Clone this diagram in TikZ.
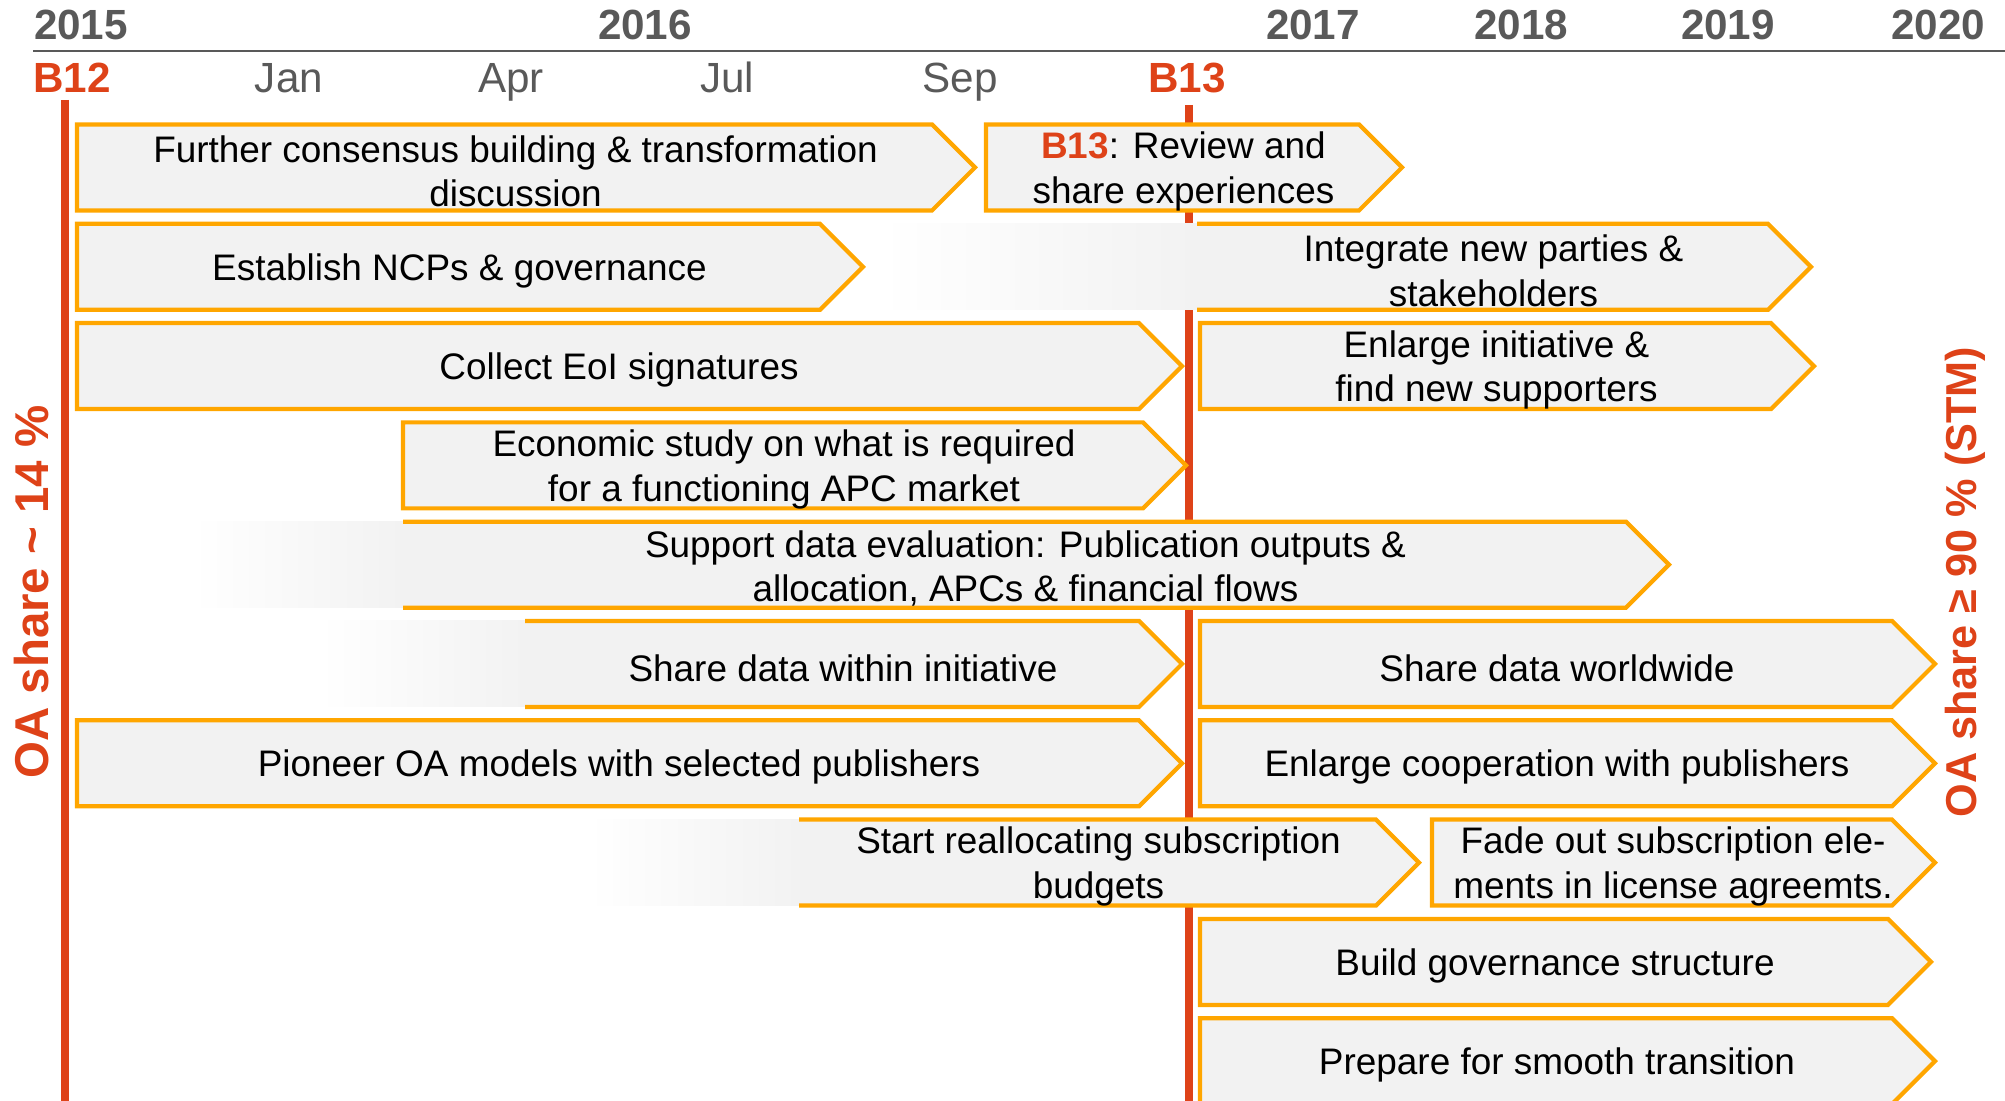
\documentclass[tikz,border=0pt]{standalone}
\usepackage{fontspec}
\setmainfont{Liberation Sans}
\definecolor{oared}{RGB}{222,66,24}
\definecolor{phaseorange}{RGB}{255,166,0}
\definecolor{phasegray}{RGB}{242,242,242}
\definecolor{labelgray}{RGB}{89,89,89}
\tikzset{
	phaseline/.style={draw=phaseorange, fill=phasegray, line width=1.2pt, line join=miter},
	phasetext/.style={align=center, inner sep=0pt, yshift=-1.1pt, font=\fontsize{10.5pt}{12.7pt}\selectfont},
	yearlabel/.style={anchor=base, inner sep=0pt, text=labelgray, font=\fontsize{12pt}{14pt}\selectfont\bfseries},
	monthlabel/.style={anchor=base, inner sep=0pt, text=labelgray, font=\fontsize{12pt}{14pt}\selectfont},
	meetlabel/.style={anchor=base, inner sep=0pt, text=oared, font=\fontsize{12pt}{14pt}\selectfont\bfseries},
	sharelabel/.style={anchor=base, inner sep=0pt, rotate=90, text=oared},
	milestone/.style={draw=oared, line width=2pt},
	pics/phase/.style={code={
		\filldraw[phaseline] (0,-43) -- (#1,-43) -- (#1+43,0) -- (#1,43) -- (0,43) -- cycle;
	}},
	pics/fadephase/.style={code={
		\fill[phasegray] (0,-43) -- (#1,-43) -- (#1+43,0) -- (#1,43) -- (0,43) -- cycle;
		\draw[phaseline, fill=none] (0,-43) -- (#1,-43) -- (#1+43,0) -- (#1,43) -- (0,43);
	}}
}
\begin{document}
\begin{tikzpicture}[x=0.01cm, y=-0.01cm]
	\useasboundingbox (0,0) rectangle (2005,1101);
	\clip (0,0) rectangle (2005,1101);
	\draw[milestone] (65,100) -- (65,1101);
	\draw[milestone] (1189,105) -- (1189,1101);
	\draw[labelgray, line width=0.7pt] (33,51) -- (2005,51);
	\foreach \yx/\yr in {81/2015, 645/2016, 1313/2017, 1521/2018, 1728/2019, 1938/2020}
		\node[yearlabel] (y\yr) at (\yx,40) {\yr};
	\foreach \mx/\mn in {289/Jan, 511/Apr, 727/Jul, 960/Sep}
		\node[monthlabel] (m\mn) at (\mx,93) {\mn};
	\node[meetlabel] (b12) at (72,93) {B12};
	\node[meetlabel] (b13) at (1187,93) {B13};
	\foreach \xl/\xr/\k/\nm/\txt in {
		77/932/1/consensus/{Further consensus building \& transformation\\discussion},
		986/1359/1/review/{{\color{oared}\bfseries B13}: Review and\\share experiences},
		77/820/2/ncps/{Establish NCPs \& governance},
		77/1139/3/eoi/{Collect EoI signatures},
		1200/1771/3/enlarge/{Enlarge initiative \&\\find new supporters},
		403/1143/4/econ/{Economic study on what is required\\for a functioning APC market},
		1200/1892/6/sharews/{Share data worldwide},
		77/1139/7/pioneer/{Pioneer OA models with selected publishers},
		1200/1892/7/coop/{Enlarge cooperation with publishers},
		1432/1892/8/fadeout/{Fade out subscription ele-\\ments in license agreemts.},
		1200/1888/9/govern/{Build governance structure},
		1200/1892/10/prepare/{Prepare for smooth transition}} {
		\pgfmathsetmacro{\rowy}{167.5+99.3*(\k-1)}
		\pgfmathsetmacro{\barlen}{\xr-\xl}
		\pgfmathsetmacro{\midx}{(\xl+\xr)/2+11}
		\pic at (\xl,\rowy) {phase=\barlen};
		\node[phasetext] (\nm) at (\midx,\rowy) {\txt};
	}
	\foreach \xg/\xl/\xr/\k/\nm/\txt in {
		880/1197/1768/2/integrate/{Integrate new parties \&\\stakeholders},
		192/403/1626/5/support/{Support data evaluation: Publication outputs \&\\allocation, APCs \& financial flows},
		320/525/1139/6/sharein/{Share data within initiative},
		588/799/1376/8/realloc/{Start reallocating subscription\\budgets}} {
		\pgfmathsetmacro{\rowy}{167.5+99.3*(\k-1)}
		\pgfmathsetmacro{\barlen}{\xr-\xl}
		\pgfmathsetmacro{\midx}{(\xl+\xr)/2+11}
		\shade[left color=white, right color=phasegray] (\xg,\rowy-43) rectangle (\xl,\rowy+43);
		\pic at (\xl,\rowy) {fadephase=\barlen};
		\node[phasetext] (\nm) at (\midx,\rowy) {\txt};
	}
	\node[sharelabel, font=\fontsize{13.5pt}{16pt}\selectfont\bfseries] (oanow) at (48,592) {OA share \textasciitilde{} 14 \%};
	\node[sharelabel, font=\fontsize{12.3pt}{15pt}\selectfont\bfseries] (oagoal) at (1976,582) {OA share ≥ 90 \% (STM)};
\end{tikzpicture}
\end{document}
